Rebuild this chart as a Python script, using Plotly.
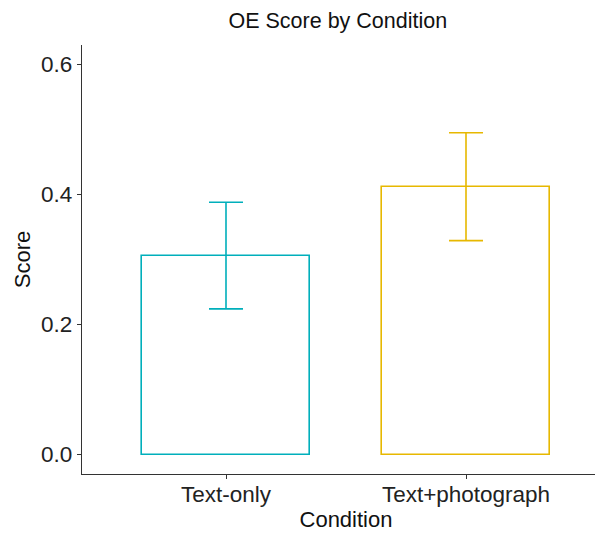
import plotly.graph_objects as go

categories = ["Text-only", "Text+photograph"]
scores = [0.306, 0.412]
errors = [0.082, 0.083]
colors = ["#00AFBB", "#E7B800"]
y_ticks = [0.0, 0.2, 0.4, 0.6]
y_tick_labels = ["0.0", "0.2", "0.4", "0.6"]

fig = go.Figure()
for cat, s, e, c in zip(categories, scores, errors, colors):
    fig.add_trace(go.Bar(
        x=[cat], y=[s], width=0.7,
        marker=dict(color="rgba(255,255,255,0)", line=dict(color=c, width=1.6)),
        error_y=dict(type="data", array=[e], visible=True, color=c, thickness=1.6, width=17),
        showlegend=False,
    ))

font_family = "Liberation Sans, Arial, sans-serif"
H = 527
fig.update_layout(
    width=603, height=H,
    margin=dict(l=74, r=1, t=37, b=61),
    paper_bgcolor="white", plot_bgcolor="white",
    font=dict(family=font_family, color="#222222"),
    title=dict(text="OE Score by Condition", xref="container", x=0.547, xanchor="center",
               yref="container", y=1 - 12.5 / H, yanchor="middle",
               font=dict(size=21.5, color="#111111")),
    bargap=0,
)
fig.update_xaxes(
    range=[-0.6, 1.6], showline=True, linecolor="#333333", linewidth=1.2,
    ticks="outside", ticklen=4, tickcolor="#333333", tickwidth=1.2,
    showgrid=False, zeroline=False, ticklabelstandoff=-4,
    tickfont=dict(size=22.5, color="#222222"),
    title=dict(text="Condition", font=dict(size=22, color="#111111"), standoff=0),
)
fig.update_yaxes(
    range=[-0.03, 0.63], showline=True, linecolor="#333333", linewidth=1.2,
    ticks="outside", ticklen=4, tickcolor="#333333", tickwidth=1.2,
    showgrid=False, zeroline=False,
    tickvals=y_ticks, ticktext=y_tick_labels,
    tickfont=dict(size=22.5, color="#222222"),
    title=dict(text="Score", font=dict(size=22, color="#111111"), standoff=4),
)
fig.write_html("out.html")
